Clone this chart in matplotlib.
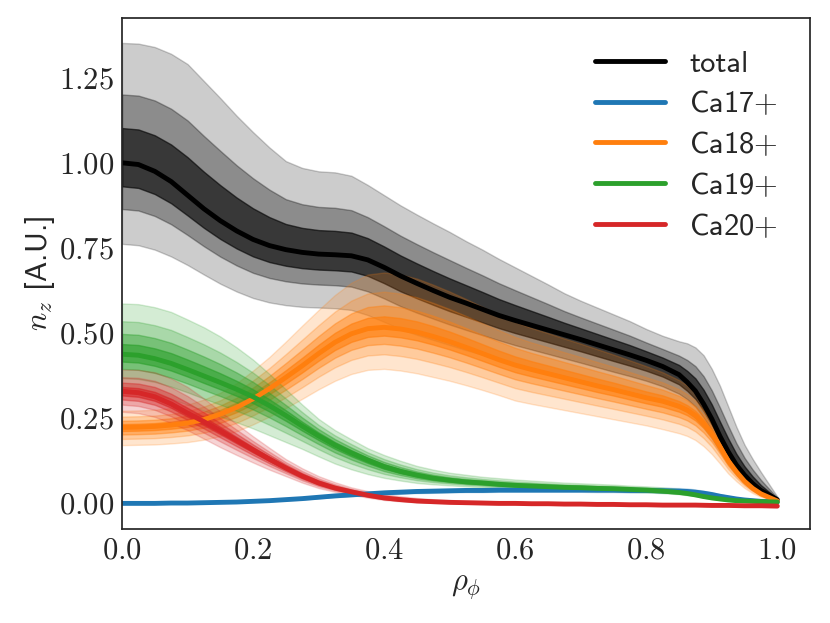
import numpy as np
import matplotlib
matplotlib.use('Agg')
import matplotlib.pyplot as plt
from matplotlib.ticker import FormatStrFormatter

plt.style.use('seaborn-v0_8-white')
plt.rcParams['font.family'] = 'cmss10'
plt.rcParams['mathtext.fontset'] = 'cm'
plt.rcParams['axes.unicode_minus'] = False
plt.rcParams['axes.edgecolor'] = '.15'
plt.rcParams['axes.linewidth'] = 1.25

# radial grid (rho_phi), denser in the steep edge region
rho = [0.0, 0.025, 0.05, 0.075, 0.1, 0.125, 0.15, 0.175, 0.2, 0.225, 0.25, 0.275, 0.3, 0.325,
       0.35, 0.375, 0.4, 0.425, 0.45, 0.475, 0.5, 0.525, 0.55, 0.575, 0.6, 0.625, 0.65, 0.675,
       0.7, 0.725, 0.75, 0.775, 0.8, 0.825, 0.85,
       0.8625, 0.875, 0.8875, 0.9, 0.9125, 0.925, 0.9375, 0.95, 0.9625, 0.975, 1.0]

# median profiles
total = [1.00, 0.995, 0.975, 0.945, 0.905, 0.865, 0.83, 0.80, 0.775, 0.757, 0.745, 0.737, 0.732, 0.73,
         0.727, 0.715, 0.693, 0.668, 0.646, 0.625, 0.605, 0.588, 0.57, 0.552, 0.537, 0.523, 0.509, 0.495,
         0.481, 0.466, 0.451, 0.436, 0.42, 0.402, 0.378,
         0.356, 0.33, 0.292, 0.248, 0.197, 0.152, 0.113, 0.083, 0.058, 0.038, 0.011]
ca17 = [0.0, 0.0, 0.0, 0.001, 0.001, 0.002, 0.003, 0.004, 0.006, 0.008, 0.011, 0.014, 0.018, 0.022,
        0.025, 0.028, 0.031, 0.033, 0.035, 0.036, 0.037, 0.038, 0.038, 0.039, 0.039, 0.039, 0.039, 0.039,
        0.039, 0.039, 0.039, 0.038, 0.038, 0.037, 0.036,
        0.035, 0.033, 0.030, 0.026, 0.021, 0.017, 0.013, 0.010, 0.008, 0.006, 0.004]
ca18 = [0.223, 0.224, 0.226, 0.23, 0.236, 0.246, 0.262, 0.282, 0.307, 0.337, 0.37, 0.404, 0.44, 0.473,
        0.498, 0.513, 0.517, 0.512, 0.503, 0.49, 0.475, 0.458, 0.44, 0.422, 0.406, 0.393, 0.381, 0.369,
        0.357, 0.345, 0.334, 0.322, 0.31, 0.30, 0.285,
        0.274, 0.258, 0.235, 0.205, 0.166, 0.125, 0.093, 0.065, 0.044, 0.028, 0.007]
ca19 = [0.438, 0.435, 0.425, 0.411, 0.393, 0.374, 0.355, 0.335, 0.313, 0.287, 0.258, 0.227, 0.198, 0.171,
        0.148, 0.127, 0.108, 0.094, 0.083, 0.074, 0.068, 0.063, 0.06, 0.056, 0.053, 0.051, 0.049, 0.047,
        0.046, 0.044, 0.043, 0.041, 0.039, 0.036, 0.032,
        0.029, 0.025, 0.02, 0.016, 0.013, 0.010, 0.008, 0.007, 0.006, 0.005, 0.004]
ca20 = [0.329, 0.325, 0.313, 0.292, 0.265, 0.24, 0.213, 0.185, 0.157, 0.13, 0.104, 0.08, 0.06, 0.045,
        0.034, 0.024, 0.016, 0.011, 0.007, 0.005, 0.003, 0.002, 0.001, 0.0, 0.0, -0.001, -0.001, -0.002,
        -0.002, -0.003, -0.003, -0.004, -0.004, -0.005, -0.005,
        -0.005, -0.005, -0.0055, -0.006, -0.006, -0.006, -0.0065, -0.007, -0.007, -0.007, -0.008]

# outermost band edges
total_hi = [1.352, 1.35, 1.34, 1.32, 1.29, 1.24, 1.19, 1.138, 1.09, 1.045, 1.005, 0.985, 0.975, 0.972,
            0.962, 0.935, 0.905, 0.875, 0.848, 0.822, 0.797, 0.77, 0.745, 0.718, 0.693, 0.668, 0.643, 0.617,
            0.595, 0.575, 0.555, 0.535, 0.512, 0.492, 0.476,
            0.47, 0.458, 0.435, 0.395, 0.345, 0.285, 0.225, 0.172, 0.13, 0.092, 0.02]
total_lo = [0.762, 0.758, 0.745, 0.725, 0.70, 0.672, 0.645, 0.622, 0.603, 0.59, 0.582, 0.577, 0.575, 0.573,
            0.568, 0.553, 0.533, 0.512, 0.495, 0.48, 0.465, 0.45, 0.437, 0.424, 0.41, 0.398, 0.386, 0.374,
            0.362, 0.35, 0.338, 0.327, 0.315, 0.30, 0.28,
            0.268, 0.25, 0.222, 0.19, 0.152, 0.115, 0.085, 0.062, 0.043, 0.028, 0.006]
ca17_hi = [0.001, 0.001, 0.001, 0.002, 0.002, 0.003, 0.004, 0.006, 0.008, 0.011, 0.014, 0.018, 0.022, 0.026,
           0.03, 0.033, 0.036, 0.038, 0.04, 0.041, 0.042, 0.043, 0.043, 0.044, 0.044, 0.045, 0.045, 0.045,
           0.045, 0.046, 0.046, 0.046, 0.046, 0.046, 0.045,
           0.044, 0.041, 0.037, 0.033, 0.027, 0.022, 0.017, 0.013, 0.010, 0.008, 0.005]
ca17_lo = [0.0, 0.0, 0.0, 0.0, 0.001, 0.001, 0.002, 0.003, 0.005, 0.006, 0.009, 0.011, 0.015, 0.018,
           0.021, 0.024, 0.026, 0.028, 0.03, 0.031, 0.032, 0.033, 0.033, 0.034, 0.034, 0.034, 0.034, 0.034,
           0.034, 0.033, 0.033, 0.032, 0.032, 0.031, 0.03,
           0.029, 0.027, 0.024, 0.021, 0.017, 0.013, 0.010, 0.008, 0.006, 0.005, 0.003]
ca18_hi = [0.272, 0.273, 0.275, 0.28, 0.29, 0.305, 0.325, 0.353, 0.39, 0.43, 0.475, 0.522, 0.568, 0.612,
           0.648, 0.672, 0.678, 0.672, 0.66, 0.642, 0.622, 0.60, 0.577, 0.555, 0.533, 0.515, 0.50, 0.484,
           0.469, 0.453, 0.437, 0.42, 0.403, 0.385, 0.362,
           0.346, 0.325, 0.293, 0.25, 0.203, 0.155, 0.115, 0.082, 0.056, 0.035, 0.008]
ca18_lo = [0.171, 0.172, 0.173, 0.176, 0.18, 0.187, 0.198, 0.212, 0.232, 0.255, 0.28, 0.307, 0.335, 0.36,
           0.38, 0.392, 0.395, 0.39, 0.382, 0.371, 0.36, 0.347, 0.333, 0.318, 0.302, 0.292, 0.283, 0.274,
           0.265, 0.256, 0.247, 0.238, 0.229, 0.218, 0.206,
           0.198, 0.186, 0.168, 0.145, 0.117, 0.088, 0.065, 0.045, 0.03, 0.019, 0.005]
ca19_hi = [0.587, 0.585, 0.576, 0.562, 0.54, 0.517, 0.49, 0.458, 0.422, 0.38, 0.335, 0.29, 0.248, 0.215,
           0.188, 0.162, 0.142, 0.125, 0.11, 0.099, 0.09, 0.084, 0.078, 0.074, 0.07, 0.067, 0.064, 0.061,
           0.059, 0.057, 0.055, 0.052, 0.05, 0.047, 0.043,
           0.039, 0.035, 0.029, 0.024, 0.019, 0.015, 0.012, 0.009, 0.007, 0.006, 0.005]
ca19_lo = [0.33, 0.328, 0.32, 0.306, 0.29, 0.272, 0.255, 0.238, 0.22, 0.20, 0.18, 0.16, 0.138, 0.117,
           0.10, 0.086, 0.075, 0.067, 0.06, 0.056, 0.053, 0.05, 0.047, 0.045, 0.043, 0.041, 0.04, 0.038,
           0.037, 0.036, 0.035, 0.033, 0.032, 0.03, 0.027,
           0.024, 0.021, 0.017, 0.013, 0.010, 0.008, 0.006, 0.005, 0.0045, 0.004, 0.003]
ca20_hi = [0.393, 0.392, 0.385, 0.367, 0.342, 0.308, 0.27, 0.233, 0.197, 0.163, 0.13, 0.103, 0.08, 0.062,
           0.047, 0.036, 0.027, 0.021, 0.016, 0.012, 0.01, 0.008, 0.007, 0.006, 0.005, 0.003, 0.003, 0.002,
           0.002, 0.001, 0.001, 0.0, 0.0, -0.001, -0.001,
           -0.001, -0.001, -0.0015, -0.002, -0.002, -0.002, -0.0025, -0.003, -0.003, -0.003, -0.004]
ca20_lo = [0.269, 0.265, 0.254, 0.236, 0.215, 0.19, 0.165, 0.142, 0.12, 0.099, 0.08, 0.061, 0.045, 0.034,
           0.025, 0.017, 0.01, 0.006, 0.003, 0.001, 0.0, -0.001, -0.002, -0.003, -0.003, -0.004, -0.004, -0.005,
           -0.005, -0.006, -0.006, -0.007, -0.007, -0.008, -0.008,
           -0.008, -0.008, -0.0085, -0.009, -0.009, -0.009, -0.0095, -0.01, -0.01, -0.01, -0.011]

labels = ['total', 'Ca17$+$', 'Ca18$+$', 'Ca19$+$', 'Ca20$+$']
colors = ['k', '#1f77b4', '#ff7f0e', '#2ca02c', '#d62728']

# nested bands: fraction of the outer band width, and alpha of each fill
total_frac = [1.0, 0.57, 0.29]
total_alpha = [0.2, 0.31, 0.6]
ion_frac = [1.0, 0.65, 0.4, 0.2]
ion_alpha = [0.2, 0.25, 0.4, 0.6]

series = [(total, total_lo, total_hi), (ca17, ca17_lo, ca17_hi), (ca18, ca18_lo, ca18_hi),
          (ca19, ca19_lo, ca19_hi), (ca20, ca20_lo, ca20_hi)]
for s in series:
    for arr in s:
        assert len(arr) == len(rho)

fig = plt.figure(figsize=(8.3, 6.23), dpi=100)
ax = fig.add_axes([0.147, 0.151, 0.829, 0.820])

x = np.array(rho)
for i, ((mid, lo, hi), col, lab) in enumerate(zip(series, colors, labels)):
    mid = np.array(mid)
    lo = np.array(lo)
    hi = np.array(hi)
    if i == 0:
        levels = zip(total_frac, total_alpha)
    else:
        levels = zip(ion_frac, ion_alpha)
    for f, a in levels:
        ax.fill_between(x, mid - f*(mid - lo), mid + f*(hi - mid),
                        color=col, alpha=a, lw=1)
    ax.plot(x, mid, color=col, lw=3.5, label=lab, solid_capstyle='round')

ax.set_xlim(0, 1.05)
ax.set_ylim(-0.075, 1.425)
ax.set_xticks([0.0, 0.2, 0.4, 0.6, 0.8, 1.0])
ax.set_yticks([0.0, 0.25, 0.5, 0.75, 1.0, 1.25])
ax.xaxis.set_major_formatter(FormatStrFormatter(r'$%.1f$'))
ax.yaxis.set_major_formatter(FormatStrFormatter(r'$%.2f$'))
ax.tick_params(labelsize=22, length=0, pad=6, colors='.15')
ax.set_xlabel(r'$\rho_\phi$', fontsize=22, color='.15', labelpad=6)
ax.set_ylabel(r'$n_z$ [A.U.]', fontsize=22, color='.15', labelpad=1)

leg = ax.legend(loc='upper right', fontsize=22, frameon=False, handlelength=2.3,
                handletextpad=0.8, labelspacing=0.39, borderaxespad=0.65)
for t in leg.get_texts():
    t.set_color('.15')

fig.savefig('out.png', dpi=100)
